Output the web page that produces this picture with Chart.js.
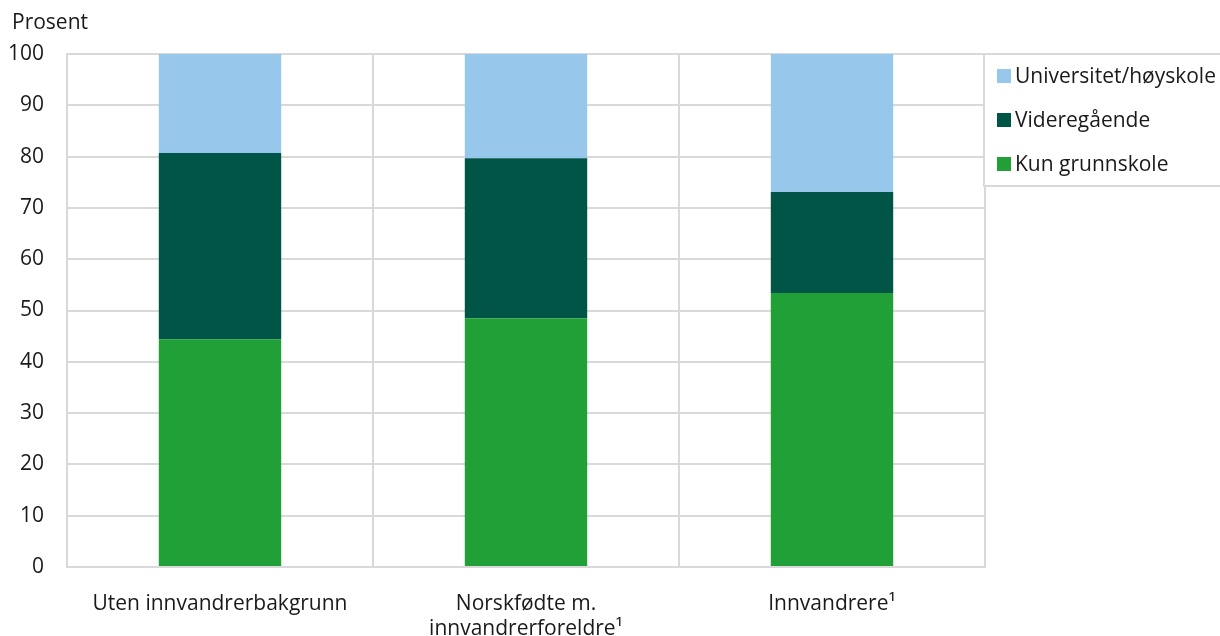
<!DOCTYPE html>
<html>
<head>
<meta charset="utf-8">
<script src="https://cdn.jsdelivr.net/npm/chart.js@4"></script>
<style>
    html, body { margin: 0; padding: 0; background: #fff; }
    #wrap { width: 1220px; height: 636px; }
</style>
</head>
<body>
<div id="wrap"><canvas id="eduChart" width="1220" height="636"></canvas></div>
<script>
// Data
const categories = ['Uten innvandrerbakgrunn', ['Norskfødte m.', 'innvandrerforeldre¹'], 'Innvandrere¹'];
const kunGrunnskole = [44.4, 48.5, 53.4];
const videregaende = [36.3, 31.2, 19.7];
const universitet = [19.3, 20.3, 26.9];
const yTicks = [0, 10, 20, 30, 40, 50, 60, 70, 80, 90, 100];

const FONT = '"Open Sans", "Noto Sans", sans-serif';
const FONT_SIZE = 21;
const TEXT_COLOR = '#1a1a1a';
const GRID_COLOR = '#d9d9d9';

// Titles and legend drawn on the canvas
const extrasPlugin = {
    id: 'extrasPlugin',
    afterDraw: function(chart) {
        const ctx = chart.ctx;
        const area = chart.chartArea;
        ctx.save();
        ctx.font = FONT_SIZE + 'px ' + FONT;
        ctx.fillStyle = TEXT_COLOR;
        ctx.textAlign = 'left';
        ctx.textBaseline = 'middle';
        ctx.fillText('Prosent', 12, 23);

        // legend box
        const boxLeft = area.right - 1;
        const boxTop = area.top;
        const boxBottom = 186;
        ctx.fillStyle = '#fff';
        ctx.fillRect(boxLeft, boxTop, chart.width - boxLeft, boxBottom - boxTop);
        ctx.strokeStyle = GRID_COLOR;
        ctx.lineWidth = 2;
        ctx.beginPath();
        ctx.moveTo(chart.width + 2, boxTop);
        ctx.lineTo(boxLeft, boxTop);
        ctx.lineTo(boxLeft, boxBottom);
        ctx.lineTo(chart.width + 2, boxBottom);
        ctx.stroke();

        const items = chart.data.datasets.slice().reverse();
        items.forEach((ds, i) => {
            const cy = 76 + i * 44;
            ctx.fillStyle = ds.backgroundColor;
            ctx.fillRect(boxLeft + 13, cy - 7, 14, 14);
            ctx.fillStyle = TEXT_COLOR;
            ctx.fillText(ds.label, boxLeft + 31, cy + 1);
        });
        ctx.restore();
    }
};

const ctx = document.getElementById('eduChart').getContext('2d');
new Chart(ctx, {
    type: 'bar',
    data: {
        labels: categories,
        datasets: [
            { label: 'Kun grunnskole', data: kunGrunnskole, backgroundColor: '#21a038' },
            { label: 'Videregående', data: videregaende, backgroundColor: '#005546' },
            { label: 'Universitet/høyskole', data: universitet, backgroundColor: '#97c8ec' }
        ]
    },
    options: {
        responsive: false,
        animation: false,
        layout: { padding: { top: 54, right: 235, bottom: 0, left: 0 } },
        datasets: {
            bar: { barPercentage: 0.4, categoryPercentage: 1.0, borderWidth: 0 }
        },
        scales: {
            x: {
                stacked: true,
                afterFit: function(scale) { scale.height = 69; },
                grid: { color: GRID_COLOR, lineWidth: 2, drawTicks: false, offset: true },
                border: { color: GRID_COLOR, width: 2 },
                ticks: {
                    color: TEXT_COLOR,
                    font: { family: FONT, size: FONT_SIZE, lineHeight: 1.2 },
                    padding: 24,
                    maxRotation: 0
                }
            },
            y: {
                stacked: true,
                min: 0,
                max: 100,
                afterFit: function(scale) { scale.width = 67; },
                afterBuildTicks: function(scale) { scale.ticks = yTicks.map(v => ({ value: v })); },
                grid: { color: GRID_COLOR, lineWidth: 2, drawTicks: false },
                border: { color: GRID_COLOR, width: 2 },
                ticks: {
                    color: TEXT_COLOR,
                    font: { family: FONT, size: FONT_SIZE },
                    padding: 23
                }
            }
        },
        plugins: {
            legend: { display: false },
            tooltip: { enabled: false }
        }
    },
    plugins: [extrasPlugin]
});
</script>
</body>
</html>
